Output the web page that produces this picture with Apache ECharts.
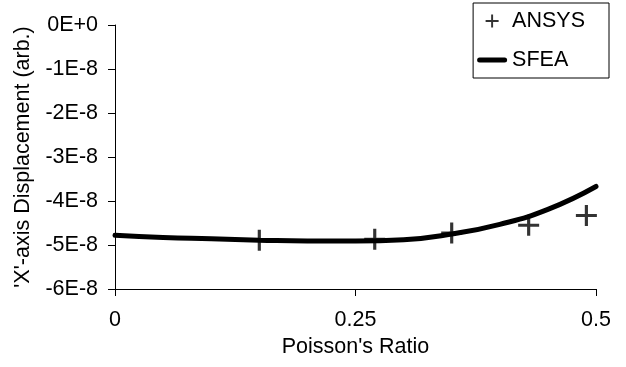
<!DOCTYPE html>
<html>
<head>
    <meta charset="utf-8">
    <title>Poisson's Ratio</title>
    <script src="https://cdn.jsdelivr.net/npm/echarts@6/dist/echarts.min.js"></script>
    <style>
        html, body { margin: 0; padding: 0; background: #fff; }
    </style>
</head>
<body>
<div id="main" style="width:626px; height:367px;"></div>
<script type="text/javascript">
    // values in units of 1E-8 (arb.)
    var ansysRatio = [0.15, 0.27, 0.35, 0.43, 0.49];
    var ansysDisp  = [-4.89, -4.87, -4.73, -4.55, -4.33];

    var sfeaRatio = [0, 0.05, 0.1, 0.15, 0.2, 0.25, 0.3, 0.35, 0.4, 0.45, 0.5];
    var sfeaDisp  = [-4.78, -4.83, -4.86, -4.89, -4.91, -4.91, -4.88, -4.75, -4.53, -4.19, -3.67];

    var plusPath = 'path://M8.5,0H11.5V8.5H20V11.5H11.5V20H8.5V11.5H0V8.5H8.5Z';
    var barPath = 'path://M2.5,0H27.5A2.5,2.5,0,0,1,27.5,5H2.5A2.5,2.5,0,0,1,2.5,0Z';
    var font = 'Liberation Sans, Arial, sans-serif';
    var fs = 21.5;

    function pairs(xs, ys) {
        return xs.map(function (x, i) { return [x, ys[i]]; });
    }

    var myChart = echarts.init(document.getElementById('main'));

    var option = {
        animation: false,
        textStyle: { fontFamily: font, color: '#000' },
        grid: { left: 115, right: 30, top: 25, bottom: 78 },
        legend: {
            orient: 'vertical',
            right: 17,
            top: 3,
            padding: [7, 24, 7, 4],
            borderColor: '#000',
            borderWidth: 1,
            itemWidth: 30,
            itemHeight: 13,
            itemGap: 17,
            textStyle: { fontFamily: font, fontSize: fs, color: '#000' },
            data: [
                { name: 'ANSYS', icon: plusPath, itemStyle: { color: '#000' } },
                { name: 'SFEA', icon: barPath, itemStyle: { color: '#000' } }
            ]
        },
        xAxis: {
            type: 'value',
            min: 0,
            max: 0.5,
            interval: 0.25,
            name: "Poisson's Ratio",
            nameLocation: 'middle',
            nameGap: 43,
            nameTextStyle: { fontFamily: font, fontSize: fs, color: '#000' },
            axisLine: { onZero: false, lineStyle: { color: '#000', width: 1 } },
            axisTick: { show: true, inside: false, length: 7, lineStyle: { color: '#000' } },
            axisLabel: { fontFamily: font, fontSize: fs, color: '#000', margin: 20 },
            splitLine: { show: false }
        },
        yAxis: {
            type: 'value',
            min: -6,
            max: 0,
            interval: 1,
            name: "'X'-axis Displacement (arb.)",
            nameLocation: 'middle',
            nameRotate: 90,
            nameGap: 81,
            nameTextStyle: { fontFamily: font, fontSize: fs, color: '#000' },
            axisLine: { show: true, lineStyle: { color: '#000', width: 1 } },
            axisTick: { show: true, inside: false, length: 7, lineStyle: { color: '#000' } },
            axisLabel: {
                fontFamily: font, fontSize: fs, color: '#000', margin: 17,
                formatter: function (v) { return v === 0 ? '0E+0' : Math.round(v) + 'E-8'; }
            },
            splitLine: { show: false }
        },
        series: [
            {
                name: 'SFEA',
                type: 'line',
                data: pairs(sfeaRatio, sfeaDisp),
                smooth: true,
                symbol: 'none',
                lineStyle: { color: '#000', width: 5, cap: 'round' },
                itemStyle: { color: '#000' },
                z: 2
            },
            {
                name: 'ANSYS',
                type: 'scatter',
                data: pairs(ansysRatio, ansysDisp),
                symbol: plusPath,
                symbolSize: 21,
                itemStyle: { color: '#000' },
                z: 3
            }
        ]
    };

    myChart.setOption(option);
</script>
</body>
</html>
